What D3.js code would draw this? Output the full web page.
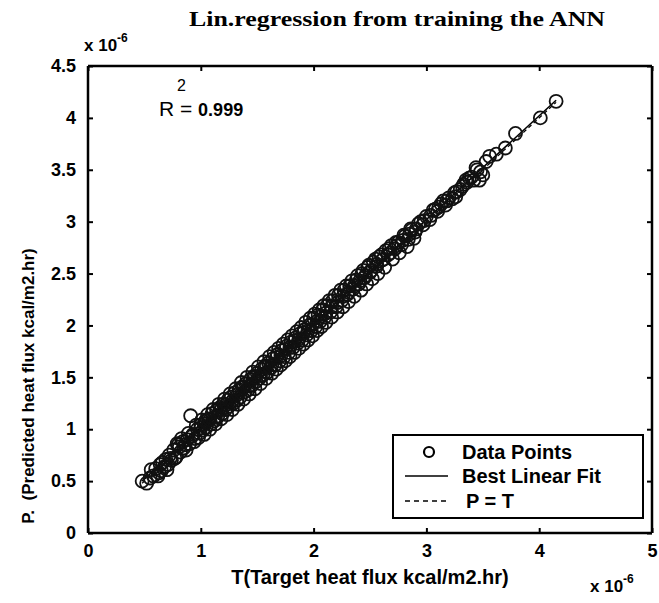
<!DOCTYPE html>
<html lang="en">
<head>
<meta charset="utf-8">
<title>Lin.regression from training the ANN</title>
<script src="https://d3js.org/d3.v7.min.js"></script>
<style>
  body { margin: 0; background: #fff; }
  text { font-family: "Liberation Sans", Arial, sans-serif; }
</style>
</head>
<body>
<div id="chart"></div>
<script>
// data, units of 1e-6 kcal/m2.hr  -- [target T, predicted P]
const pointsA = [[0.48,0.50],[0.52,0.48],[0.55,0.53],[0.58,0.55],[0.60,0.62],[0.63,0.58],[0.66,0.68],[0.68,0.64],[0.70,0.61],[0.72,0.75],
  [0.74,0.70],[0.76,0.80],[0.78,0.73],[0.80,0.85],[0.82,0.78],[0.84,0.88],[0.85,0.82],[0.88,0.90],[0.90,0.86],[0.91,1.13],
  [0.93,0.95],[0.95,0.91],[0.97,1.00],[0.99,0.96],[1.00,1.04],[1.02,0.99],[1.04,1.08],[1.05,1.02],[1.07,1.10],[1.09,1.05],
  [1.10,1.15],[1.12,1.08],[1.14,1.18],[1.15,1.12],[1.17,1.21],[1.19,1.15],[1.20,1.24],[1.22,1.19],[1.24,1.28],[1.25,1.22],
  [1.27,1.31],[1.29,1.25],[1.30,1.35],[1.32,1.28],[1.34,1.38],[1.35,1.31],[1.37,1.41],[1.39,1.36],[1.40,1.44],[1.42,1.38],
  [1.44,1.48],[1.45,1.42],[1.47,1.51],[1.49,1.46],[1.50,1.54],[1.52,1.49],[1.54,1.58],[1.55,1.52],[1.57,1.61],[1.59,1.55],
  [1.60,1.64],[1.62,1.59],[1.64,1.68],[1.66,1.62],[1.68,1.72],[1.70,1.66],[1.72,1.76],[1.74,1.70],[1.76,1.80],[1.78,1.74],
  [1.80,1.84],[1.82,1.79],[1.84,1.88],[1.86,1.83],[1.88,1.92],[1.90,1.86],[1.92,1.96],[1.94,1.91],[1.96,2.00],[1.98,1.95],
  [2.00,2.07],[2.02,1.99],[2.04,2.10],[2.06,2.04],[2.08,2.15],[2.10,2.08],[2.12,2.19],[2.15,2.13],[2.17,2.24],[2.20,2.18],
  [2.22,2.29],[2.25,2.24],[2.27,2.34],[2.30,2.30],[2.32,2.38],[2.35,2.35],[2.38,2.44],[2.40,2.40],[2.43,2.50],[2.45,2.46],
  [2.48,2.56],[2.50,2.51],[2.53,2.61],[2.56,2.57],[2.58,2.66],[2.61,2.63],[2.64,2.72],[2.66,2.68],[2.69,2.77],[2.72,2.74],
  [2.75,2.80],[2.78,2.78],[2.81,2.86],[2.84,2.83],[2.87,2.92],[2.90,2.90],[2.93,2.98],[2.97,2.97],[3.00,3.05],[3.03,3.02],
  [3.06,3.11],[3.10,3.10],[3.13,3.17],[3.17,3.16],[3.20,3.23],[3.23,3.22],[3.27,3.29],[3.30,3.31],[3.33,3.36],[3.36,3.38],
  [3.40,3.43],[3.42,3.40],[3.45,3.50],[3.48,3.48],[3.50,3.45],[3.53,3.58],[3.56,3.63],[3.62,3.65],[3.70,3.71],[3.79,3.85],
  [4.01,4.00],[4.15,4.16]];
const pointsB = [[0.56,0.61],[0.62,0.55],[0.65,0.60],[0.71,0.66],[0.77,0.72],[0.79,0.86],[0.83,0.91],[0.87,0.80],[0.89,0.96],[0.94,0.88],
  [0.96,1.04],[0.98,0.92],[1.01,1.09],[1.03,0.95],[1.06,1.14],[1.08,1.00],[1.11,1.19],[1.13,1.05],[1.16,1.24],[1.18,1.10],
  [1.21,1.29],[1.23,1.14],[1.26,1.34],[1.28,1.19],[1.31,1.39],[1.33,1.24],[1.36,1.45],[1.38,1.29],[1.41,1.50],[1.43,1.34],
  [1.46,1.55],[1.48,1.39],[1.51,1.60],[1.53,1.44],[1.56,1.65],[1.58,1.49],[1.61,1.70],[1.63,1.54],[1.65,1.74],[1.67,1.58],
  [1.69,1.78],[1.71,1.62],[1.73,1.82],[1.75,1.66],[1.77,1.86],[1.79,1.70],[1.81,1.90],[1.83,1.74],[1.85,1.94],[1.87,1.78],
  [1.89,1.98],[1.91,1.82],[1.93,2.03],[1.95,1.86],[1.97,2.07],[1.99,1.90],[2.01,2.11],[2.03,1.95],[2.05,2.15],[2.07,1.99],
  [2.09,2.19],[2.11,2.03],[2.14,2.24],[2.16,2.08],[2.19,2.29],[2.21,2.13],[2.24,2.34],[2.26,2.18],[2.29,2.38],[2.31,2.23],
  [2.34,2.43],[2.36,2.28],[2.39,2.48],[2.42,2.34],[2.44,2.53],[2.47,2.40],[2.49,2.58],[2.52,2.45],[2.55,2.64],[2.57,2.50],
  [2.60,2.68],[2.63,2.56],[2.67,2.74],[2.70,2.64],[2.73,2.80],[2.76,2.70],[2.80,2.87],[2.83,2.76],[2.86,2.93],[2.89,2.84],
  [2.95,3.00],[3.08,3.12],[3.15,3.20],[3.25,3.28],[3.35,3.40],[3.44,3.52],[3.47,3.40]];
const pointsC = [[0.64,0.66],[0.69,0.71],[0.73,0.72],[0.81,0.83],[0.86,0.85],[0.92,0.93],[1.00,1.01],[1.03,1.05],[1.08,1.09],[1.13,1.12],
  [1.18,1.19],[1.23,1.24],[1.28,1.27],[1.33,1.34],[1.38,1.40],[1.43,1.42],[1.48,1.50],[1.53,1.52],[1.58,1.60],[1.63,1.62],
  [1.67,1.69],[1.71,1.71],[1.75,1.77],[1.79,1.79],[1.83,1.85],[1.87,1.87],[1.91,1.93],[1.95,1.95],[1.99,2.01],[2.03,2.04],
  [2.07,2.09],[2.11,2.12],[2.16,2.18],[2.21,2.22],[2.26,2.28],[2.31,2.32],[2.36,2.38],[2.41,2.43],[2.46,2.48],[2.51,2.53],
  [2.56,2.59],[2.62,2.64],[2.68,2.70],[2.74,2.77],[2.79,2.82],[2.85,2.88],[2.91,2.93],[2.98,3.01],[3.04,3.06],[3.11,3.14],
  [3.18,3.20],[3.26,3.24],[3.32,3.34],[3.38,3.42]];
const xTicks = [0, 1, 2, 3, 4, 5];
const yTicks = [0, 0.5, 1, 1.5, 2, 2.5, 3, 3.5, 4, 4.5];
const fitSlope = 1.0, fitIntercept = 0.02;
const rSquared = "0.999";
const legendItems = ["Data Points", "Best Linear Fit", "P = T"];

const width = 659, height = 603;
const margin = {top: 66, right: 7, bottom: 70, left: 88};

const svg = d3.select("#chart").append("svg")
    .attr("width", width)
    .attr("height", height);

const x = d3.scaleLinear().domain([0, 5]).range([margin.left, width - margin.right]);
const y = d3.scaleLinear().domain([0, 4.5]).range([height - margin.bottom, margin.top]);

// title
svg.append("text")
    .attr("x", 189).attr("y", 26)
    .attr("textLength", 416)
    .attr("lengthAdjust", "spacingAndGlyphs")
    .style("font-family", "'Liberation Serif', 'DejaVu Serif', serif")
    .style("font-weight", "bold")
    .style("font-size", "21px")
    .text("Lin.regression from training the ANN");

const pts = pointsA.concat(pointsB, pointsC);
const tMin = d3.min(pts, d => d[0]), tMax = d3.max(pts, d => d[0]);

svg.append("line")
    .attr("x1", x(tMin)).attr("y1", y(tMin))
    .attr("x2", x(tMax)).attr("y2", y(tMax))
    .attr("stroke", "#000").attr("stroke-width", 1.2)
    .attr("stroke-dasharray", "4,3");

svg.append("line")
    .attr("x1", x(tMin)).attr("y1", y(fitSlope * tMin + fitIntercept))
    .attr("x2", x(tMax)).attr("y2", y(fitSlope * tMax + fitIntercept))
    .attr("stroke", "#000").attr("stroke-width", 1.6);

svg.append("g").selectAll("circle")
  .data(pts)
  .join("circle")
    .attr("cx", d => x(d[0]))
    .attr("cy", d => y(d[1]))
    .attr("r", 6.5)
    .attr("fill", "none")
    .attr("stroke", "#111")
    .attr("stroke-width", 1.8);

// axes, boxed with inward ticks
const tickLen = 5;
const axB = svg.append("g").attr("transform", `translate(0,${y(0)})`)
    .call(d3.axisBottom(x).tickValues(xTicks).tickSize(-tickLen).tickPadding(11).tickFormat(d3.format("d")));
const axT = svg.append("g").attr("transform", `translate(0,${y(4.5)})`)
    .call(d3.axisTop(x).tickValues(xTicks).tickSize(-tickLen).tickFormat(""));
const axL = svg.append("g").attr("transform", `translate(${x(0)},0)`)
    .call(d3.axisLeft(y).tickValues(yTicks).tickSize(-tickLen).tickPadding(12).tickFormat(d => d));
const axR = svg.append("g").attr("transform", `translate(${x(5)},0)`)
    .call(d3.axisRight(y).tickValues(yTicks).tickSize(-tickLen).tickFormat(""));

[axB, axT, axL, axR].forEach(g => {
  g.select(".domain").attr("stroke", "#000").attr("stroke-width", 2.5);
  g.selectAll(".tick line").attr("stroke", "#000").attr("stroke-width", 2);
  g.selectAll(".tick text")
    .style("font-family", "'Liberation Sans', Arial, sans-serif")
    .style("font-weight", "bold")
    .style("font-size", "18px")
    .attr("fill", "#000");
});
axB.select(".domain").attr("d", `M${x(0)},0H${x(5)}`);
axT.select(".domain").attr("d", `M${x(0)},0H${x(5)}`);
axL.select(".domain").attr("d", `M0,${y(0)}V${y(4.5)}`);
axR.select(".domain").attr("d", `M0,${y(0)}V${y(4.5)}`);

// exponent labels
function expLabel(px, py) {
  const t = svg.append("text").attr("x", px).attr("y", py)
      .style("font-weight", "bold").style("font-size", "17px");
  t.append("tspan").text("x 10");
  t.append("tspan").attr("dy", -9).style("font-size", "12px").text("-6");
}
expLabel(84, 51);
expLabel(590, 592);

// axis titles
svg.append("text")
    .attr("x", 370).attr("y", 584)
    .attr("text-anchor", "middle")
    .style("font-weight", "bold").style("font-size", "20px")
    .text("T(Target heat flux kcal/m2.hr)");

svg.append("text")
    .attr("transform", `translate(34,${386}) rotate(-90)`)
    .attr("text-anchor", "middle")
    .style("font-weight", "bold").style("font-size", "17px")
    .attr("xml:space", "preserve")
    .text("P.  (Predicted heat flux kcal/m2.hr)");

// R^2 annotation
svg.append("text")
    .attr("x", 159).attr("y", 116)
    .style("font-size", "21px")
    .text("R = ")
  .append("tspan").style("font-weight", "bold").style("font-size", "18px").text(rSquared);
svg.append("text")
    .attr("x", 177).attr("y", 91)
    .style("font-size", "16px")
    .text("2");

// legend
const lg = svg.append("g");
lg.append("rect")
    .attr("x", 393).attr("y", 435)
    .attr("width", 250).attr("height", 83)
    .attr("fill", "#fff").attr("stroke", "#000").attr("stroke-width", 2);
const rowY = [452, 476, 501];
lg.append("circle").attr("cx", 429).attr("cy", rowY[0]).attr("r", 5)
    .attr("fill", "none").attr("stroke", "#000").attr("stroke-width", 2.2);
lg.append("line").attr("x1", 405).attr("x2", 448).attr("y1", rowY[1]).attr("y2", rowY[1])
    .attr("stroke", "#000").attr("stroke-width", 1.6);
lg.append("line").attr("x1", 405).attr("x2", 448).attr("y1", rowY[2]).attr("y2", rowY[2])
    .attr("stroke", "#000").attr("stroke-width", 1.6).attr("stroke-dasharray", "5,4");
lg.selectAll("text.leg")
  .data(legendItems)
  .join("text")
    .attr("class", "leg")
    .attr("x", (d, i) => i === 2 ? 466 : 462)
    .attr("y", (d, i) => rowY[i] + 7)
    .style("font-weight", "bold").style("font-size", "20px")
    .text(d => d);
</script>
</body>
</html>
